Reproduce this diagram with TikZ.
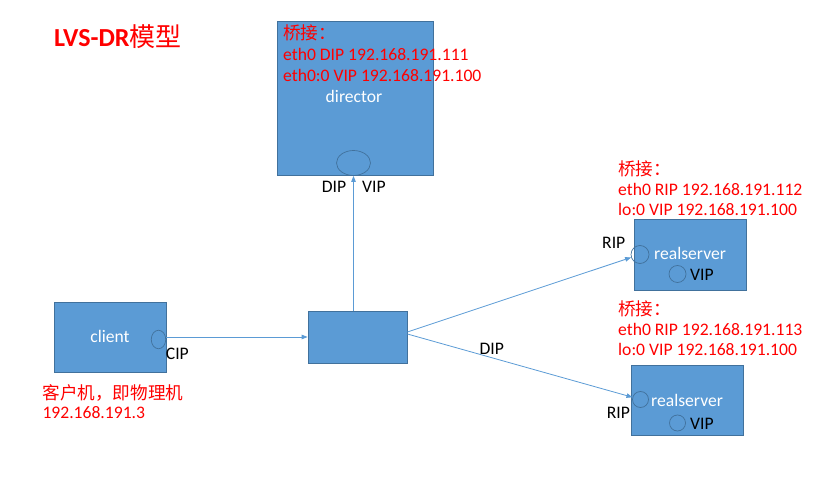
\documentclass[tikz,border=0pt]{standalone}
\usepackage{fontspec}
\setmainfont{Carlito}
\newfontfamily\cjk{Noto Sans CJK SC}
\usetikzlibrary{arrows.meta,shapes.geometric}
\definecolor{boxblue}{HTML}{5B9BD5}
\definecolor{boxedge}{HTML}{41719C}
\definecolor{notered}{HTML}{FF0000}
\tikzset{
  boxnode/.style={draw=boxedge,fill=boxblue,line width=0.8pt,inner sep=0pt},
  port/.style={draw=boxedge,ellipse,line width=0.7pt,inner sep=0pt},
  lbl/.style={anchor=base west,inner sep=0pt,font=\fontsize{17.6}{20}\selectfont},
  whitetxt/.style={lbl,text=white},
  redtxt/.style={lbl,text=notered},
  link/.style={draw=boxblue,line width=0.8pt,-{Triangle[length=6pt,width=4.5pt]}}
}
\begin{document}
\begin{tikzpicture}[x=1pt,y=-1pt]
\useasboundingbox (0,0) rectangle (827,478);
\node[anchor=base west,inner sep=0pt,text=notered,font=\fontsize{26}{30}\selectfont\bfseries] (title) at (54,47) {LVS-DR{\cjk\mdseries 模型}};
% director
\node[boxnode,minimum width=156pt,minimum height=154pt] (dir) at (355,98) {};
\node[port,minimum width=34pt,minimum height=25pt] (dirport) at (353.5,163) {};
\node[redtxt] (dirhead) at (283,40) {\cjk 桥接：};
\node[redtxt] (dirl1) at (283,60.7) {eth0 DIP 192.168.191.111};
\node[redtxt] (dirl2) at (283,81.7) {eth0:0 VIP 192.168.191.100};
\node[whitetxt,anchor=base] (dirname) at (354,103) {director};
\node[lbl] (dirdip) at (321.7,192.7) {DIP};
\node[lbl] (dirvip) at (362,192.7) {VIP};
% client
\node[boxnode,minimum width=112pt,minimum height=70pt] (client) at (110.5,337) {};
\node[port,minimum width=14.5pt,minimum height=18.5pt] (cport) at (158.5,339.5) {};
\node[whitetxt,anchor=base] (cname) at (110,342.7) {client};
\node[lbl] (cip) at (165.7,359.3) {CIP};
\node[redtxt] (cnote) at (42.3,399) {\cjk 客户机，即物理机};
\node[redtxt] (cipnum) at (42.3,418.7) {192.168.191.3};
% switch
\node[boxnode,minimum width=99pt,minimum height=52pt] (mid) at (357.5,337) {};
\node[lbl] (middip) at (479.3,354.3) {DIP};
% realserver 1
\node[boxnode,minimum width=112pt,minimum height=71pt] (rs1) at (690,254.5) {};
\node[port,minimum size=18pt] (rs1rip) at (640,254.5) {};
\node[port,minimum size=17pt] (rs1vip) at (677.5,274) {};
\node[whitetxt] (rs1name) at (654,260) {realserver};
\node[lbl] (rs1viptxt) at (690,280) {VIP};
\node[lbl] (rs1riptxt) at (602,249) {RIP};
\node[redtxt] (rs1head) at (618,176) {\cjk 桥接：};
\node[redtxt] (rs1l1) at (618,195.7) {eth0 RIP 192.168.191.112};
\node[redtxt] (rs1l2) at (618,215.7) {lo:0 VIP 192.168.191.100};
% realserver 2
\node[boxnode,minimum width=112pt,minimum height=70pt] (rs2) at (687,400) {};
\node[port,minimum size=16pt] (rs2rip) at (640.5,399.5) {};
\node[port,minimum size=16pt] (rs2vip) at (677.5,423) {};
\node[whitetxt] (rs2name) at (651,406.7) {realserver};
\node[lbl] (rs2viptxt) at (690,429.3) {VIP};
\node[lbl] (rs2riptxt) at (606.7,418.3) {RIP};
\node[redtxt] (rs2head) at (618,316) {\cjk 桥接：};
\node[redtxt] (rs2l1) at (618,335.7) {eth0 RIP 192.168.191.113};
\node[redtxt] (rs2l2) at (618,355.7) {lo:0 VIP 192.168.191.100};
% links
\draw[link] (mid.north -| dirport.south) -- (dirport.south);
\draw[link] (cport.east |- mid.west) -- (mid.west);
\draw[link] ([yshift=5pt]mid.east) -- (rs1rip);
\draw[link] ([yshift=3pt]mid.east) -- (rs2rip);
\end{tikzpicture}
\end{document}
